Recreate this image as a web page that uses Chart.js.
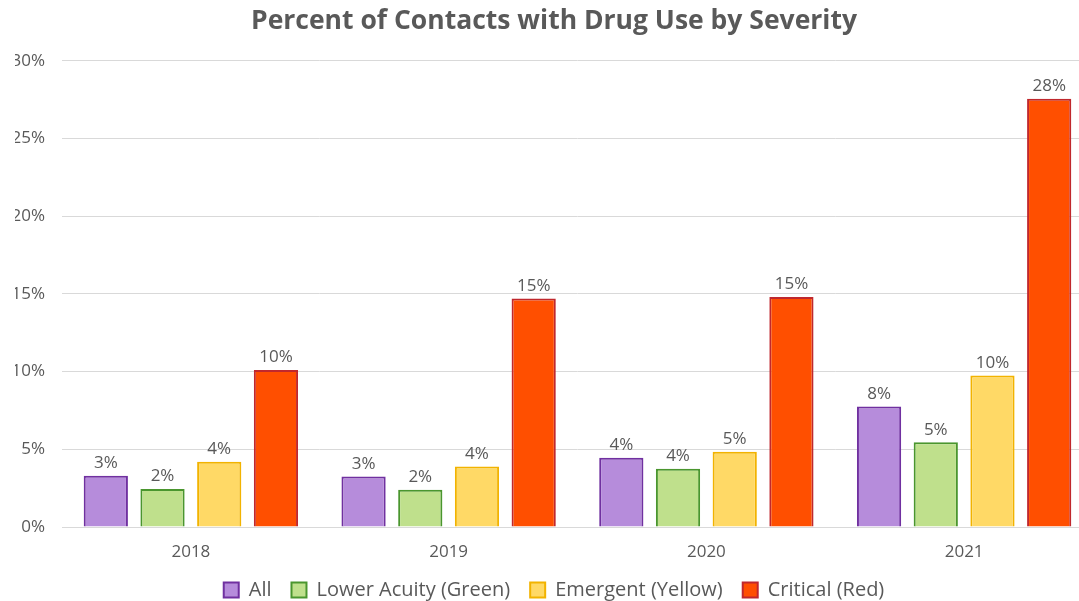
<!DOCTYPE html>
<html>
<head>
<meta charset="utf-8">
<script src="https://cdn.jsdelivr.net/npm/chart.js@4.4.0/dist/chart.umd.min.js"></script>
<style>
  html, body { margin: 0; padding: 0; background: #fff; overflow: hidden; }
</style>
</head>
<body>
<canvas id="myChart" width="1093" height="601"></canvas>
<script>
// data
const years = ['2018', '2019', '2020', '2021'];
const allContacts = [3.3, 3.25, 4.45, 7.75];
const lowerAcuity = [2.45, 2.4, 3.75, 5.45];
const emergent = [4.2, 3.9, 4.85, 9.75];
const critical = [10.1, 14.7, 14.8, 27.55];
const yTicks = [0, 5, 10, 15, 20, 25, 30];

const grey = '#595959';
const font = "'Open Sans', 'Liberation Sans', sans-serif";

// simple value labels on top of bars
const barLabels = {
    id: 'barLabels',
    afterDatasetsDraw(chart) {
        const ctx = chart.ctx;
        ctx.save();
        ctx.fillStyle = grey;
        ctx.font = '17px ' + font;
        ctx.textAlign = 'center';
        ctx.textBaseline = 'bottom';
        chart.data.datasets.forEach((ds, i) => {
            chart.getDatasetMeta(i).data.forEach((bar, j) => {
                ctx.fillText(Math.round(ds.data[j]) + '%', bar.x, bar.y - 4);
            });
        });
        ctx.restore();
    }
};

var ctx = document.getElementById('myChart').getContext('2d');
var chart = new Chart(ctx, {
    type: 'bar',
    data: {
        labels: years,
        datasets: [
            {
                label: 'All',
                backgroundColor: '#b68cdb',
                borderColor: '#7030a0',
                borderWidth: 2,
                data: allContacts
            },
            {
                label: 'Lower Acuity (Green)',
                backgroundColor: '#bfe08c',
                borderColor: '#4a962e',
                borderWidth: 2,
                data: lowerAcuity
            },
            {
                label: 'Emergent (Yellow)',
                backgroundColor: '#ffd966',
                borderColor: '#f2b300',
                borderWidth: 2,
                data: emergent
            },
            {
                label: 'Critical (Red)',
                backgroundColor: '#ff4f00',
                borderColor: '#c0282d',
                borderWidth: 2,
                data: critical
            }
        ]
    },
    options: {
        responsive: false,
        animation: false,
        devicePixelRatio: 1,
        layout: { padding: { left: 15, right: 0, top: 6, bottom: -9 } },
        datasets: {
            bar: { categoryPercentage: 0.88, barPercentage: 0.78 }
        },
        plugins: {
            title: {
                display: true,
                text: 'Percent of Contacts with Drug Use by Severity',
                color: grey,
                font: { family: font, size: 26.5, weight: 'bold' },
                padding: { top: 0, bottom: 23 }
            },
            legend: {
                position: 'bottom',
                labels: {
                    color: grey,
                    font: { family: font, size: 20 },
                    boxWidth: 15,
                    boxHeight: 15,
                    padding: 20
                }
            },
            tooltip: { enabled: false }
        },
        scales: {
            x: {
                grid: { display: false },
                border: { color: '#d9d9d9' },
                ticks: { color: grey, font: { family: font, size: 17 }, padding: 7 },
                afterFit: (axis) => { axis.height = 33; }
            },
            y: {
                min: 0,
                max: 30,
                afterBuildTicks: (axis) => { axis.ticks = yTicks.map(v => ({ value: v })); },
                afterFit: (axis) => { axis.width = 47; },
                grid: { color: '#d9d9d9', drawTicks: false },
                border: { display: false },
                ticks: {
                    color: grey,
                    font: { family: font, size: 17 },
                    padding: 17,
                    callback: (v) => v + '%'
                }
            }
        }
    },
    plugins: [barLabels]
});
</script>
</body>
</html>
